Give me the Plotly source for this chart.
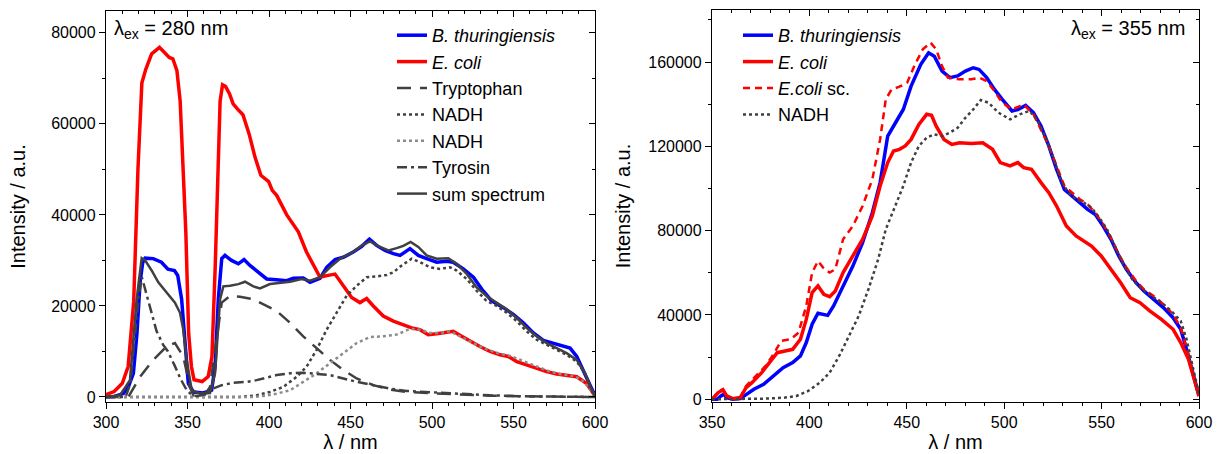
import plotly.graph_objects as go

# ---------------- Left panel (lambda_ex = 280 nm) ----------------
bt280_x = [300, 305, 310.6, 314, 316.8, 319, 320.9, 322.5, 324, 329, 334, 338, 342, 344, 346.4, 348.5, 350.5, 353.6, 359.7, 364.8, 366.9, 368.9, 371, 373, 377, 381.2, 384.7, 388.3, 393.5, 398.6, 404.7, 410.8, 414.9, 421, 425.2, 431.3, 435.4, 440.5, 445.6, 451.7, 456.9, 461.6, 466, 471.2, 476.3, 480.4, 486.5, 491.6, 496.7, 502.9, 509, 513, 519.2, 525.4, 530.5, 536.6, 543.8, 549.9, 556, 562.2, 568.3, 574.4, 580.6, 584.7, 588.8, 592.9, 597, 600]
bt280_y = [0, 100, 740, 2500, 5200, 14000, 25200, 29500, 30500, 30400, 29600, 28100, 27800, 26700, 21500, 11850, 2960, 1100, 890, 1480, 6670, 21500, 30400, 31100, 30000, 29260, 30200, 28900, 27400, 25930, 25780, 25550, 26070, 26150, 25200, 26070, 28500, 30200, 30700, 31850, 33100, 34670, 33300, 32200, 31500, 31100, 32600, 31100, 30400, 29600, 29800, 29600, 28150, 26300, 23700, 21100, 19630, 18150, 16300, 14070, 12440, 11850, 11100, 10740, 8900, 5930, 2600, 300]

ec280_x = [300, 305, 310, 313.6, 317, 319.6, 322, 324.4, 328, 332.8, 335, 338.8, 341, 343.5, 345.5, 347, 349, 350.7, 352.4, 354, 359, 362.7, 365, 367, 368.7, 370, 371.5, 373.4, 375.8, 378, 380.6, 384, 387.8, 391.4, 395, 399.8, 402, 404.7, 410.9, 418, 423, 427, 431.3, 435.4, 440.5, 445.6, 450.7, 455.8, 459.9, 464, 470.1, 476.3, 482.4, 487.5, 492.6, 497.7, 502.9, 509, 513, 518.2, 523.3, 529.4, 535.6, 541.7, 546.8, 552, 558, 564.2, 570.3, 576.5, 582.6, 588.8, 594.9, 600]
ec280_y = [500, 1200, 3000, 6700, 21000, 50000, 69000, 72000, 75400, 76800, 76000, 74600, 74300, 71700, 65000, 54000, 36000, 14000, 6700, 3800, 3400, 4500, 8900, 28600, 50500, 65000, 68600, 68200, 66600, 64400, 63300, 62000, 57800, 52700, 48700, 47300, 45400, 44300, 40000, 36300, 31850, 29260, 26300, 26670, 27000, 24440, 21850, 20740, 21630, 20000, 17780, 16670, 15930, 15190, 14800, 13700, 13900, 14200, 14440, 13330, 12220, 11100, 10000, 9260, 8900, 7780, 7040, 6300, 5560, 5040, 4810, 4440, 2960, 200]

trp_x = [300, 313.7, 320.9, 329, 337.2, 342.3, 347.4, 351.5, 353.6, 359.7, 363.8, 368, 371, 376, 382.2, 390.4, 396.5, 404.7, 412.9, 421, 429.2, 437.4, 445.6, 453.8, 464, 474.2, 484.4, 494.7, 515.1, 535.6, 556, 600]
trp_y = [0, 0, 4440, 8150, 11100, 11850, 8900, 2200, 370, 0, 2200, 12600, 20740, 22200, 22000, 21480, 20370, 18900, 16300, 13330, 10740, 8150, 5930, 4070, 2600, 1630, 1110, 890, 590, 300, 150, 0]

nadh1_x = [300, 382, 392.4, 400.6, 408.8, 417, 423.1, 429.2, 435.4, 441.5, 447.6, 453.8, 459.9, 466, 472.2, 476.3, 481.4, 487.5, 492.6, 498.8, 504.9, 511, 515.1, 521.3, 527.4, 533.5, 539.7, 545.8, 552, 558, 564.2, 570.3, 576.5, 582.6, 588.8, 593.9, 598, 600]
nadh1_y = [0, 0, 370, 1110, 2220, 4440, 6670, 10370, 14800, 18500, 22220, 24440, 26300, 26500, 26800, 27400, 28900, 30370, 29630, 28500, 28150, 28500, 27780, 25930, 23330, 21100, 20000, 18500, 16670, 14440, 12590, 11480, 10370, 9260, 7780, 5190, 1480, 0]

nadh2_x = [300, 390, 398, 404.7, 412.9, 421, 429.2, 437.4, 445.6, 453.8, 462, 470.1, 478.3, 486.5, 492.6, 498.8, 504.9, 511, 517.2, 523.3, 529.4, 535.6, 541.7, 547.9, 554, 560.1, 566.3, 572.4, 578.5, 584.7, 590.8, 595.9, 600]
nadh2_y = [0, 0, 300, 740, 1480, 3330, 5190, 7410, 9630, 11850, 13180, 13330, 13700, 14960, 14800, 14070, 14070, 14440, 13330, 12220, 11100, 10220, 9480, 9040, 8150, 7260, 6300, 5560, 5040, 4740, 4070, 2220, 150]

tyr_x = [300, 312, 315, 318, 320, 322, 327, 331, 335, 338, 342, 346, 350, 354, 358, 360.7, 365.8, 371, 378.1, 386.3, 392.4, 398.6, 404.7, 412.9, 420, 425.2, 431.3, 437.4, 445.6, 453.8, 464, 474.2, 484.4, 494.7, 504.9, 515.1, 535.6, 556, 600]
tyr_y = [0, 0, 3000, 14000, 22000, 26300, 19500, 14500, 11500, 10000, 7000, 3800, 1200, 200, 300, 740, 1850, 2600, 3110, 3330, 3700, 4300, 4810, 5200, 5330, 5190, 5040, 4810, 4070, 3330, 2600, 1850, 1330, 1110, 890, 740, 370, 150, 0]

sum_x = [300, 308.6, 314.7, 318.8, 321.9, 324, 328, 332.1, 337.2, 342.3, 345.4, 347.4, 349.5, 352.6, 357.7, 363.8, 366.9, 370, 372, 376.1, 381.2, 385.3, 390.4, 394.5, 400.6, 406.7, 412.9, 420, 425.2, 431.3, 437.4, 443.6, 451.7, 456.9, 462, 468.1, 473.3, 478.3, 482.4, 486.9, 491.6, 496.7, 502.9, 510, 515.1, 521.3, 527.4, 533.5, 539.7, 545.8, 552, 558, 564.2, 570.3, 576.5, 582.6, 588.8, 593.9, 598, 600]
sum_y = [0, 370, 3700, 21500, 30500, 30000, 27800, 25200, 22960, 20740, 18500, 14800, 8150, 1480, 740, 890, 5200, 21500, 24300, 24440, 24800, 25330, 24300, 23850, 24810, 25040, 25300, 25930, 25550, 26300, 28500, 30370, 31850, 33300, 34200, 32960, 32200, 32700, 33200, 34070, 32960, 31100, 30370, 30500, 29260, 27040, 24070, 22200, 20740, 19260, 17400, 15200, 13330, 11850, 10740, 9630, 8150, 5200, 1480, 150]

# ---------------- Right panel (lambda_ex = 355 nm) ----------------
bt355_x = [350, 352.6, 354.6, 356, 357.6, 360.6, 364.5, 367.5, 371.5, 376.5, 381.5, 386.5, 391.4, 395.4, 398.4, 401.4, 404.4, 407.4, 409.4, 412.4, 417.3, 422.3, 427.3, 432.3, 436.3, 440.2, 444.2, 448.2, 452.2, 457.2, 461.2, 464.1, 468.1, 472.1, 476.1, 480.1, 484.1, 487.1, 491, 495, 499, 504, 507, 511, 515, 518.9, 522.9, 526.9, 530.9, 534.9, 538.8, 542.8, 546.8, 550.8, 554.8, 558.8, 562.7, 567.7, 571.7, 576.7, 581.7, 586.7, 590.6, 593.6, 596.6, 600]
bt355_y = [0, 0, 1580, 2370, 790, 0, 300, 2370, 4740, 7110, 11070, 15000, 17400, 20550, 26900, 35600, 40800, 40300, 39800, 44300, 53800, 63200, 74300, 88500, 102800, 124900, 131200, 137500, 148600, 158900, 164400, 162800, 155700, 152600, 153400, 155700, 157300, 156500, 152600, 147000, 142300, 136800, 137500, 139400, 136000, 129600, 120200, 109100, 99600, 96400, 93300, 90100, 87700, 82200, 75900, 68000, 61700, 55300, 51400, 47400, 43500, 38700, 33200, 23700, 12600, 1580]

ec355_x = [350, 353.2, 355.6, 357.6, 360.6, 364.5, 367.5, 370.5, 375.5, 379.5, 383.5, 387.5, 391.4, 395.4, 398.4, 401.4, 404.4, 407.4, 410.4, 413.3, 417.3, 422.3, 427.3, 432.3, 436.3, 440.2, 443.2, 446.2, 449.2, 452.2, 456.2, 460.2, 462.7, 465.1, 469.1, 473.1, 477.1, 483.1, 489, 494, 498, 503, 507, 510, 514, 518.9, 522.9, 526.9, 531.9, 536.9, 540.8, 544.8, 549.8, 554.8, 559.8, 564.7, 569.7, 574.7, 580.7, 586.7, 590.6, 594.6, 597.6, 600]
ec355_y = [0, 3160, 4430, 1580, 300, 790, 5530, 7900, 12650, 17400, 22100, 22900, 23700, 28500, 37900, 50600, 53800, 49800, 48700, 51400, 60100, 68000, 75900, 87000, 101200, 112300, 117800, 118600, 120200, 123300, 130400, 135200, 134700, 129600, 123300, 120900, 121700, 121400, 121700, 118600, 112300, 110700, 112300, 109900, 109100, 102800, 98000, 91700, 82200, 77500, 75100, 72700, 68000, 61700, 55300, 48200, 45800, 41900, 37900, 33200, 26900, 19000, 9500, 1580]

ecsc_x = [350, 353.2, 355.6, 357.6, 360.6, 364.5, 367.5, 371.5, 377.5, 381.5, 385.5, 390.4, 394.4, 398.4, 401.4, 404.4, 407, 410.4, 413.3, 417.3, 422.3, 427.3, 432.3, 436.3, 439.2, 442.2, 446.2, 450.2, 454.2, 458.2, 462.2, 465.1, 468.1, 471.1, 477.1, 483.1, 487.1, 491, 495, 499, 504, 508, 510, 515, 518.9, 522.9, 526.9, 530.9, 534.9, 538.8, 542.8, 546.8, 550.8, 554.8, 558.8, 562.7, 567.7, 571.7, 576.7, 581.7, 586.7, 590.6, 593.6, 596.6, 600]
ecsc_y = [0, 3500, 4800, 1700, 300, 900, 6300, 10300, 15800, 21300, 27700, 28500, 31600, 44300, 60100, 65600, 62500, 60100, 61700, 75900, 82200, 91700, 104300, 123300, 142300, 147000, 148300, 150200, 158900, 166000, 169200, 166000, 158100, 152600, 151800, 151800, 152600, 151000, 146200, 140700, 137500, 139100, 139900, 135200, 128100, 120200, 110700, 101200, 98000, 94900, 92500, 88500, 83000, 76700, 68800, 62500, 56100, 52200, 49000, 45100, 40300, 34000, 24500, 13400, 1900]

nadh355_x = [350, 377.5, 387.5, 393.4, 399.4, 405.4, 410.4, 415.3, 420.3, 425.3, 430.3, 435.3, 439.2, 444.2, 448.2, 452.2, 456.2, 460.2, 464.1, 468.1, 472.1, 476.1, 480.1, 484.1, 488, 492, 497, 503, 508, 513, 516.9, 520.9, 524.9, 528.9, 532.9, 536.9, 540.8, 544.8, 548.8, 552.8, 556.8, 560.8, 565.7, 570.7, 575.7, 580.7, 585.7, 590.6, 593.6, 596.6, 600]
nadh355_y = [0, 300, 790, 1580, 3950, 7900, 12650, 20550, 30000, 39500, 52200, 66400, 80600, 91700, 101200, 112300, 120200, 124100, 125700, 124900, 126500, 128800, 133600, 137500, 142000, 140700, 136000, 132800, 135200, 136800, 132800, 124900, 115400, 104300, 98000, 94900, 93300, 90900, 86200, 80600, 72700, 64800, 56900, 52200, 49000, 45900, 41900, 37200, 28500, 15800, 2400]

BLUE = "#0000ff"
RED = "#ff0000"
DARK = "#404040"
LIGHT = "#8c8c8c"
FONT = "Liberation Sans, Arial, sans-serif"

fig = go.Figure()

def add(x, y, name, color, width, dash, xa, ya, legend):
    fig.add_trace(go.Scatter(x=x, y=y, mode="lines", name=name,
                             line=dict(color=color, width=width, dash=dash),
                             xaxis=xa, yaxis=ya, legend=legend, hoverinfo="skip"))

add(bt280_x, bt280_y, "<i>B. thuringiensis</i>", BLUE, 3.5, "solid", "x", "y", "legend")
add(ec280_x, ec280_y, "<i>E. coli</i>", RED, 3.5, "solid", "x", "y", "legend")
add(trp_x, trp_y, "Tryptophan", DARK, 2.5, "14px,9px", "x", "y", "legend")
add(nadh1_x, nadh1_y, "NADH", DARK, 2.5, "dot", "x", "y", "legend")
add(nadh2_x, nadh2_y, "NADH", LIGHT, 2.5, "dot", "x", "y", "legend")
add(tyr_x, tyr_y, "Tyrosin", DARK, 2.5, "10px,4px,3px,4px", "x", "y", "legend")
add(sum_x, sum_y, "sum spectrum", DARK, 2.5, "solid", "x", "y", "legend")

add(bt355_x, bt355_y, "<i>B. thuringiensis</i>", BLUE, 3.5, "solid", "x2", "y2", "legend2")
add(ec355_x, ec355_y, "<i>E. coli</i>", RED, 3.5, "solid", "x2", "y2", "legend2")
add(ecsc_x, ecsc_y, "<i>E.coli</i> sc.", RED, 2.5, "7px,5px", "x2", "y2", "legend2")
add(nadh355_x, nadh355_y, "NADH", DARK, 2.5, "dot", "x2", "y2", "legend2")

# empty helper traces so mirror-tick axes render
for xa, ya in [("x3", "y"), ("x", "y3"), ("x4", "y2"), ("x2", "y4")]:
    fig.add_trace(go.Scatter(x=[], y=[], xaxis=xa, yaxis=ya, showlegend=False, hoverinfo="skip"))

LX = [106 / 1219, 595 / 1219]
RX = [712 / 1219, 1199 / 1219]
LY = [1 - 402 / 454, 1 - 11 / 454]
RY = [1 - 402 / 454, 1 - 10 / 454]
LYR = [-1100, 84800]
RYR = [-1300, 184700]

tickfont = dict(family=FONT, size=16, color="black")
titlefont = dict(family=FONT, size=20, color="black")

def main_axis(domain, rng, dtick, mdtick, title, standoff, **kw):
    return dict(domain=domain, range=rng, dtick=dtick, tick0=0, showline=True, linecolor="black",
                linewidth=1.3, mirror=True, ticks="outside", ticklen=6, tickwidth=1.3,
                tickcolor="black", minor=dict(ticks="outside", ticklen=3, dtick=mdtick, tickwidth=1.3,
                                               tickcolor="black", tick0=0),
                showgrid=False, zeroline=False, tickfont=tickfont, automargin=False,
                title=dict(text=title, font=titlefont, standoff=standoff), **kw)

def mirror_axis(rng, dtick, mdtick, overlaying, side, anchor):
    return dict(range=rng, dtick=dtick, tick0=0, overlaying=overlaying, side=side, anchor=anchor,
                ticks="inside", ticklen=6, tickwidth=1.3, tickcolor="black", showticklabels=False,
                showline=False, showgrid=False, zeroline=False, automargin=False,
                minor=dict(ticks="inside", ticklen=3, dtick=mdtick, tickwidth=1.3, tickcolor="black", tick0=0))

LEGFONT = dict(family=FONT, size=18, color="black")

fig.update_layout(
    width=1219, height=454, margin=dict(l=0, r=0, t=0, b=0, autoexpand=False),
    paper_bgcolor="white", plot_bgcolor="white",
    font=dict(family=FONT, color="black"),
    xaxis=main_axis(LX, [300, 600], 50, 10, "λ / nm", 4, anchor="y"),
    yaxis=main_axis(LY, LYR, 20000, 10000, "Intensity / a.u.", 20, anchor="x", tickformat="d"),
    xaxis2=main_axis(RX, [350, 600], 50, 10, "λ / nm", 4, anchor="y2"),
    yaxis2=main_axis(RY, RYR, 40000, 20000, "Intensity / a.u.", 12, anchor="x2", tickformat="d"),
    xaxis3=mirror_axis([300, 600], 50, 10, "x", "top", "y"),
    yaxis3=mirror_axis(LYR, 20000, 10000, "y", "right", "x"),
    xaxis4=mirror_axis([350, 600], 50, 10, "x2", "top", "y2"),
    yaxis4=mirror_axis(RYR, 40000, 20000, "y2", "right", "x2"),
    legend=dict(x=392 / 1219, y=1 - 17 / 454, xanchor="left", yanchor="top",
                font=LEGFONT, bgcolor="rgba(0,0,0,0)", tracegroupgap=0, itemwidth=30),
    legend2=dict(x=738 / 1219, y=1 - 17 / 454, xanchor="left", yanchor="top",
                 font=LEGFONT, bgcolor="rgba(0,0,0,0)", tracegroupgap=0, itemwidth=30),
    showlegend=True,
    annotations=[
        dict(text="λ<sub>ex</sub> = 280 nm", x=112 / 1219, y=1 - 30 / 454, xref="paper", yref="paper",
             xanchor="left", yanchor="middle", showarrow=False, font=dict(family=FONT, size=20, color="black")),
        dict(text="λ<sub>ex</sub> = 355 nm", x=1187 / 1219, y=1 - 30 / 454, xref="paper", yref="paper",
             xanchor="right", yanchor="middle", showarrow=False, font=dict(family=FONT, size=20, color="black")),
    ],
)

fig.write_html("out.html", config={"displayModeBar": False},
               post_script="document.body.style.margin='0';document.body.style.padding='0';")
